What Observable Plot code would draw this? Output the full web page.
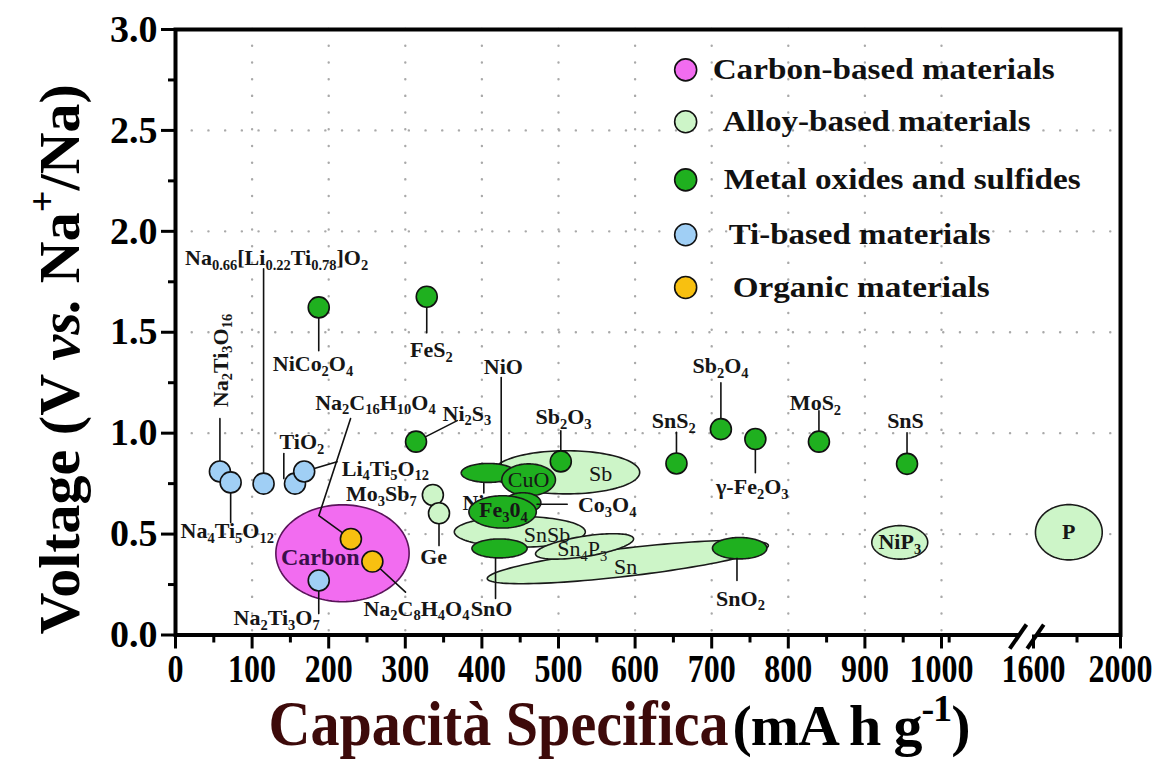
<!DOCTYPE html>
<html>
<head>
<meta charset="utf-8">
<script src="https://cdn.jsdelivr.net/npm/d3@7"></script>
<script src="https://cdn.jsdelivr.net/npm/@observablehq/plot@0.6"></script>
<style>
  html, body { margin: 0; padding: 0; background: #fff; }
  #chart svg { display: block; }
</style>
</head>
<body>
<div id="chart"></div>
<script>
// ---- Material classes (legend) ----
const categories = [
  "Carbon-based materials",
  "Alloy-based materials",
  "Metal oxides and sulfides",
  "Ti-based materials",
  "Organic materials"
];
const categoryFill = ["#f26cf0", "#cdf5c8", "#1fb01f", "#a0cff5", "#f8c010"];
const categoryStroke = ["#5a145a", "#1a1a1a", "#1a1a1a", "#1a1a1a", "#1a1a1a"];

// ---- Single materials: mean capacity (mA h g-1) and mean voltage (V vs Na+/Na) ----
const pointNames = [
  "Na₂Ti₃O₁₆", "Na₄Ti₅O₁₂", "Na₀.₆₆[Li₀.₂₂Ti₀.₇₈]O₂", "TiO₂", "Li₄Ti₅O₁₂", "Na₂Ti₃O₇",
  "Na₂C₁₆H₁₀O₄", "Na₂C₈H₄O₄", "Mo₃Sb₇", "Ge",
  "NiCo₂O₄", "FeS₂", "Ni₂S₃", "Sb₂O₃", "SnS₂", "Sb₂O₄", "γ-Fe₂O₃", "MoS₂", "SnS"
];
const pointCapacity = [58, 72, 115, 156, 168, 187, 229, 257, 336, 344, 187, 328, 314, 503, 654, 712, 757, 840, 955];
const pointVoltage = [0.81, 0.756, 0.75, 0.75, 0.81, 0.27, 0.476, 0.364, 0.694, 0.603, 1.623, 1.676, 0.958, 0.86, 0.85, 1.02, 0.971, 0.958, 0.848];
const pointClass = [3, 3, 3, 3, 3, 3, 4, 4, 1, 1, 2, 2, 2, 2, 2, 2, 2, 2, 2];

// ---- Materials spread over a range: capacity span, voltage at each end, voltage half-width ----
const regionNames = ["Carbon", "Sb", "NiO", "CuO", "Sn", "SnSb", "Sn₄P₃", "Co₃O₄", "Fe₃0₄", "SnO", "SnO₂", "NiP₃", "P"];
const regionCapFrom = [131, 415, 373, 426, 407, 364, 470, 430, 383, 387, 701, 909, 1609];
const regionCapTo = [305, 606, 444, 496, 774, 535, 598, 477, 471, 459, 772, 982, 1916];
const regionVFrom = [0.405, 0.806, 0.803, 0.769, 0.28, 0.511, 0.402, 0.655, 0.61, 0.429, 0.43, 0.459, 0.509];
const regionVTo = [0.405, 0.806, 0.803, 0.769, 0.443, 0.511, 0.476, 0.655, 0.61, 0.429, 0.43, 0.459, 0.509];
const regionVHalf = [0.24, 0.107, 0.047, 0.079, 0.07, 0.076, 0.051, 0.05, 0.08, 0.047, 0.053, 0.083, 0.137];
const regionClass = [0, 1, 2, 2, 1, 1, 1, 2, 2, 2, 2, 1, 1];

// ---- Axis ticks ----
const xMajorTicks = [0, 100, 200, 300, 400, 500, 600, 700, 800, 900, 1000, 1600, 2000];
const xMinorTicks = [50, 150, 250, 350, 450, 550, 650, 750, 850, 950, 1050, 1800];
const yMajorTicks = [0, 0.5, 1.0, 1.5, 2.0, 2.5, 3.0];
const yMinorTicks = [0.25, 0.75, 1.25, 1.75, 2.25, 2.75];
const xGrid = [100, 200, 300, 400, 500, 600, 700, 800, 900, 1000];
const yGrid = [0.5, 1.0, 1.5, 2.0, 2.5];

// ---- Annotation layout (label anchor in data units, leader polyline) ----
// A leader entry is either a material name (its position) or [capacity, voltage];
// a null capacity repeats the previous one.
const labelLayout = [
  {text: "Na₀.₆₆[Li₀.₂₂Ti₀.₇₈]O₂", x: 132, y: 1.869, leader: ["Na₀.₆₆[Li₀.₂₂Ti₀.₇₈]O₂", [null, 1.814]]},
  {text: "Na₂Ti₃O₁₆", x: 58.7, y: 1.36, rotate: -90, leader: ["Na₂Ti₃O₁₆", [null, 1.072]]},
  {text: "Na₄Ti₅O₁₂", x: 67.5, y: 0.517, leader: ["Na₄Ti₅O₁₂", [null, 0.557]]},
  {text: "TiO₂", x: 165, y: 0.954, leader: [[141.4, 0.899], [141.4, 0.775]]},
  {text: "Li₄Ti₅O₁₂", x: 274, y: 0.825, leader: ["Li₄Ti₅O₁₂", [211, 0.858]]},
  {text: "Na₂Ti₃O₇", x: 132, y: 0.082, leader: ["Na₂Ti₃O₇", [null, 0.106]]},
  {text: "Na₂C₁₆H₁₀O₄", x: 261, y: 1.152, leader: [[228.5, 1.072], [187.1, 0.591], "Na₂C₁₆H₁₀O₄"]},
  {text: "Na₂C₈H₄O₄", x: 314.6, y: 0.131, leader: ["Na₂C₈H₄O₄", [300.3, 0.212]]},
  {text: "SnO", x: 412.5, y: 0.131, leader: [[417.8, 0.383], [417.8, 0.181]]},
  {text: "Ni₂S₃", x: 380.5, y: 1.097, leader: ["Ni₂S₃", [367.8, 1.062]]},
  {text: "NiO", x: 428, y: 1.326, leader: [[425.2, 1.276], [425.2, 0.846]]},
  {text: "Sb₂O₃", x: 506.5, y: 1.078, leader: ["Sb₂O₃", [null, 1.012]]},
  {text: "FeS₂", x: 334, y: 1.413, leader: ["FeS₂", [null, 1.497]]},
  {text: "NiCo₂O₄", x: 179.5, y: 1.344, leader: ["NiCo₂O₄", [null, 1.408]]},
  {text: "Mo₃Sb₇", x: 268.7, y: 0.697},
  {text: "Ge", x: 337, y: 0.385, leader: ["Ge", [null, 0.443]]},
  {text: "Co₃O₄", x: 563.6, y: 0.645, leader: [[472, 0.6475], [511.4, 0.6475]]},
  {text: "SnO₂", x: 737.6, y: 0.181, leader: [[733, 0.38], [733, 0.27]]},
  {text: "SnS₂", x: 650.5, y: 1.062, leader: ["SnS₂", [null, 1.004]]},
  {text: "Sb₂O₄", x: 711.5, y: 1.334, leader: ["Sb₂O₄", [null, 1.25]]},
  {text: "γ-Fe₂O₃", x: 753, y: 0.732, leader: ["γ-Fe₂O₃", [null, 0.804]]},
  {text: "MoS₂", x: 835.5, y: 1.148, leader: ["MoS₂", [null, 1.111]]},
  {text: "SnS", x: 953, y: 1.062, leader: ["SnS", [null, 1.002]]},
  {text: "Ni", x: 389, y: 0.655, leader: [[402.5, 0.756], [402.5, 0.704]], under: true}
];
// Names written inside the range shapes
const insideLabels = [
  {text: "Carbon", x: 189, y: 0.384, size: 24, weight: "bold", fill: "#3a0f4a"},
  {text: "Sb", x: 555, y: 0.798, weight: "normal"},
  {text: "CuO", x: 461, y: 0.77, weight: "normal"},
  {text: "Fe₃0₄", x: 428, y: 0.618, weight: "bold"},
  {text: "SnSb", x: 485, y: 0.494, weight: "normal"},
  {text: "Sn₄P₃", x: 531, y: 0.428, weight: "normal"},
  {text: "Sn", x: 587.5, y: 0.336, weight: "normal"},
  {text: "NiP₃", x: 945.6, y: 0.459, weight: "bold"},
  {text: "P", x: 1762, y: 0.509, weight: "bold"}
];

// Legend placement
const legendCapacity = 666;
const legendRows = [2.80, 2.543, 2.255, 1.983, 1.722];
const legendIndent = [0, 10, 11, 16, 20];

// ---- Derived tables ----
const points = pointNames.map((name, i) => ({
  name, cap: pointCapacity[i], v: pointVoltage[i], cls: pointClass[i]
}));
const pointByName = new Map(points.map(d => [d.name, d]));

const regions = regionNames.map((name, i) => ({
  name, c0: regionCapFrom[i], c1: regionCapTo[i], v0: regionVFrom[i], v1: regionVTo[i],
  h: regionVHalf[i], cls: regionClass[i]
}));

// Outline of a range: an ellipse through both ends of the capacity span
function outline(r) {
  const n = 120;
  const cx = (r.c0 + r.c1) / 2, cy = (r.v0 + r.v1) / 2;
  const ux = (r.c1 - r.c0) / 2, uy = (r.v1 - r.v0) / 2;
  return d3.range(n).map(k => {
    const t = (2 * Math.PI * k) / n;
    return {name: r.name, cap: cx + ux * Math.cos(t), v: cy + uy * Math.cos(t) + r.h * Math.sin(t)};
  });
}

function leaderPath(lbl) {
  const out = [];
  let prev = null;
  for (const e of lbl.leader) {
    let p;
    if (typeof e === "string") { const q = pointByName.get(e); p = [q.cap, q.v]; }
    else p = [e[0] == null ? prev[0] : e[0], e[1]];
    out.push({id: lbl.text, cap: p[0], v: p[1]});
    prev = p;
  }
  return out;
}
const leaders = labelLayout.filter(d => d.leader && !d.under).flatMap(leaderPath);
const underLeaders = labelLayout.filter(d => d.leader && d.under).flatMap(leaderPath);

const labelFont = 22;
const textFill = "#161616";

const regionMarks = regions.map(r => Plot.line(outline(r), {
  x: "cap", y: "v", curve: "linear-closed",
  fill: categoryFill[r.cls], stroke: categoryStroke[r.cls], strokeWidth: 1.6
}));

const legendMarks = categories.flatMap((c, i) => [
  Plot.dot([c], {x: () => legendCapacity, y: () => legendRows[i], r: 11,
    fill: categoryFill[i], stroke: "#111", strokeWidth: 1.6}),
  Plot.text([c], {x: () => legendCapacity, y: () => legendRows[i], dx: 27 + legendIndent[i],
    textAnchor: "start", fontSize: 30, fontWeight: "bold", fill: "#111"})
]);

const chart = Plot.plot({
  width: 1162,
  height: 760,
  marginLeft: 175,
  marginRight: 42,
  marginTop: 29,
  marginBottom: 125.5,
  x: {type: "linear", domain: [0, 1000, 1600, 2000], range: [175, 941, 1033, 1120], label: null},
  y: {domain: [0, 3], label: null},
  color: {type: "identity"},
  style: {fontFamily: "'Liberation Serif', 'Times New Roman', serif", fontSize: "22px", color: "black", background: "white", overflow: "visible"},
  marks: [
    // dotted grid
    Plot.ruleX(xGrid, {stroke: "#a9a9a9", strokeWidth: 2.4, strokeDasharray: "0.1,16.6", strokeLinecap: "round"}),
    Plot.ruleY(yGrid, {stroke: "#a9a9a9", strokeWidth: 2.4, strokeDasharray: "0.1,16.6", strokeLinecap: "round"}),

    // label partly hidden behind the oxide ranges
    Plot.line(underLeaders, {x: "cap", y: "v", z: "id", stroke: "#111", strokeWidth: 1.6}),
    Plot.text(labelLayout.filter(d => d.under), {x: "x", y: "y", text: "text", fontSize: labelFont, fontWeight: "bold", fill: textFill}),

    ...regionMarks,

    Plot.line(leaders, {x: "cap", y: "v", z: "id", stroke: "#111", strokeWidth: 1.6}),

    Plot.dot(points, {x: "cap", y: "v", r: 10.5, fill: d => categoryFill[d.cls], stroke: "#111", strokeWidth: 1.6}),

    Plot.text(labelLayout.filter(d => !d.under && !d.rotate), {x: "x", y: "y", text: "text", fontSize: labelFont, fontWeight: "bold", fill: textFill}),
    Plot.text(labelLayout.filter(d => d.rotate), {x: "x", y: "y", text: "text", rotate: -90, fontSize: labelFont, fontWeight: "bold", fill: textFill}),
    ...insideLabels.map(d => Plot.text([d], {x: "x", y: "y", text: "text", fontSize: d.size || labelFont, fontWeight: d.weight, fill: d.fill || textFill})),

    ...legendMarks,

    // frame, axis break and ticks
    Plot.frame({stroke: "#000", strokeWidth: 4}),
    Plot.link([0], {x1: () => 1507, x2: () => 1612, y1: () => 0, y2: () => 0, stroke: "white", strokeWidth: 7}),
    Plot.axisX({ticks: xMajorTicks, tickSize: 14, tickPadding: 5, strokeWidth: 3, tickFormat: d => `${d}`, fontSize: 40, fontWeight: "bold", label: null}),
    Plot.axisX({ticks: xMinorTicks, tickSize: 8, strokeWidth: 3, tickFormat: () => "", label: null}),
    Plot.axisY({ticks: yMajorTicks, tickSize: 14, tickPadding: 4, strokeWidth: 3, tickFormat: d3.format(".1f"), fontSize: 38, fontWeight: "bold", label: null}),
    Plot.axisY({ticks: yMinorTicks, tickSize: 7, strokeWidth: 3, tickFormat: () => "", label: null}),
    Plot.link([0, 1], {
      x1: (d, i) => [1445, 1559][i], x2: (d, i) => [1554, 1647][i],
      y1: () => -0.068, y2: () => 0.052, stroke: "#000", strokeWidth: 4
    }),

    // axis titles
    Plot.text(["Voltage (V vs. Na⁺/Na)"], {frameAnchor: "left", dx: -115, dy: 27, rotate: -90, textAnchor: "middle", fontSize: 58, fontWeight: "bold", fill: "#000"}),
    Plot.text(["Capacità Specifica"], {frameAnchor: "bottom-left", dx: 553, dy: 110, textAnchor: "end", lineAnchor: "bottom", fontSize: 64, fontWeight: "bold", fill: "#3d0a0a"}),
    Plot.text(["(mA h g⁻¹)"], {frameAnchor: "bottom-left", dx: 557, dy: 110, textAnchor: "start", lineAnchor: "bottom", fontSize: 58, fontWeight: "bold", fill: "#000"})
  ]
});

document.getElementById("chart").append(chart);

// ---- Typesetting: chemical subscripts, superscripts, italic "vs." and fitted widths ----
const SUB = {"₀": "0", "₁": "1", "₂": "2", "₃": "3", "₄": "4", "₅": "5", "₆": "6", "₇": "7", "₈": "8", "₉": "9"};
const SUP = {"⁰": "0", "¹": "1", "²": "2", "³": "3", "⁴": "4", "⁵": "5", "⁶": "6", "⁷": "7", "⁸": "8", "⁹": "9", "⁺": "+", "⁻": "-"};
const fittedWidth = {
  "Carbon-based materials": [342, "spacingAndGlyphs"],
  "Alloy-based materials": [308, "spacingAndGlyphs"],
  "Metal oxides and sulfides": [357, "spacingAndGlyphs"],
  "Ti-based materials": [262, "spacingAndGlyphs"],
  "Organic materials": [257, "spacingAndGlyphs"],
  "Capacità Specifica": [460, "spacingAndGlyphs"],
  "(mA h g⁻¹)": [238, "spacing"]
};

function typeset(el) {
  const s = el.textContent;
  const chars = [...s];
  const kinds = chars.map(c => (c in SUB ? "sub" : c in SUP ? "sup" : "n"));
  chars.forEach((c, i) => {
    if (c === "." && kinds[i - 1] === "sub" && kinds[i + 1] === "sub") kinds[i] = "sub";
  });
  const vs = s.indexOf(" vs. ");
  if (vs >= 0) for (let i = vs + 1; i < vs + 4; i++) kinds[i] = "it";
  const fit = fittedWidth[s];
  if (kinds.every(k => k === "n") && !fit) return;
  const fs = parseFloat(getComputedStyle(el).fontSize) || 22;
  if (!kinds.every(k => k === "n")) {
    const runs = [];
    chars.forEach((c, i) => {
      const ch = kinds[i] === "sub" ? (SUB[c] || c) : kinds[i] === "sup" ? (SUP[c] || c) : c;
      if (runs.length && runs[runs.length - 1].kind === kinds[i]) runs[runs.length - 1].text += ch;
      else runs.push({kind: kinds[i], text: ch});
    });
    el.textContent = "";
    let shift = 0;
    for (const r of runs) {
      const t = document.createElementNS("http://www.w3.org/2000/svg", "tspan");
      const target = r.kind === "sub" ? 0.22 * fs : r.kind === "sup" ? -0.42 * fs : 0;
      if (target !== shift) t.setAttribute("dy", (target - shift).toFixed(2));
      shift = target;
      if (r.kind === "sub" || r.kind === "sup") t.setAttribute("font-size", (0.66 * fs).toFixed(1));
      if (r.kind === "it") t.setAttribute("font-style", "italic");
      t.textContent = r.text;
      el.appendChild(t);
    }
  }
  if (fit) {
    el.setAttribute("textLength", fit[0]);
    el.setAttribute("lengthAdjust", fit[1]);
  }
}
d3.select(chart).selectAll("text").each(function () { typeset(this); });

// Capacity tick numbers are set narrow and tall: wrap each in a group that
// squeezes it horizontally about its own centre.
function narrow(el, sx) {
  const box = el.getBoundingClientRect();
  const parent = el.parentNode;
  const g = document.createElementNS("http://www.w3.org/2000/svg", "g");
  parent.insertBefore(g, el);
  g.appendChild(el);
  const pt = chart.createSVGPoint();
  pt.x = box.x + box.width / 2;
  pt.y = box.y + box.height / 2;
  const c = pt.matrixTransform(parent.getScreenCTM().inverse());
  g.setAttribute("transform", `translate(${c.x},0) scale(${sx},1) translate(${-c.x},0)`);
}
d3.select(chart).selectAll('g[aria-label="x-axis tick label"] text').each(function () { narrow(this, 0.8); });
</script>
</body>
</html>
